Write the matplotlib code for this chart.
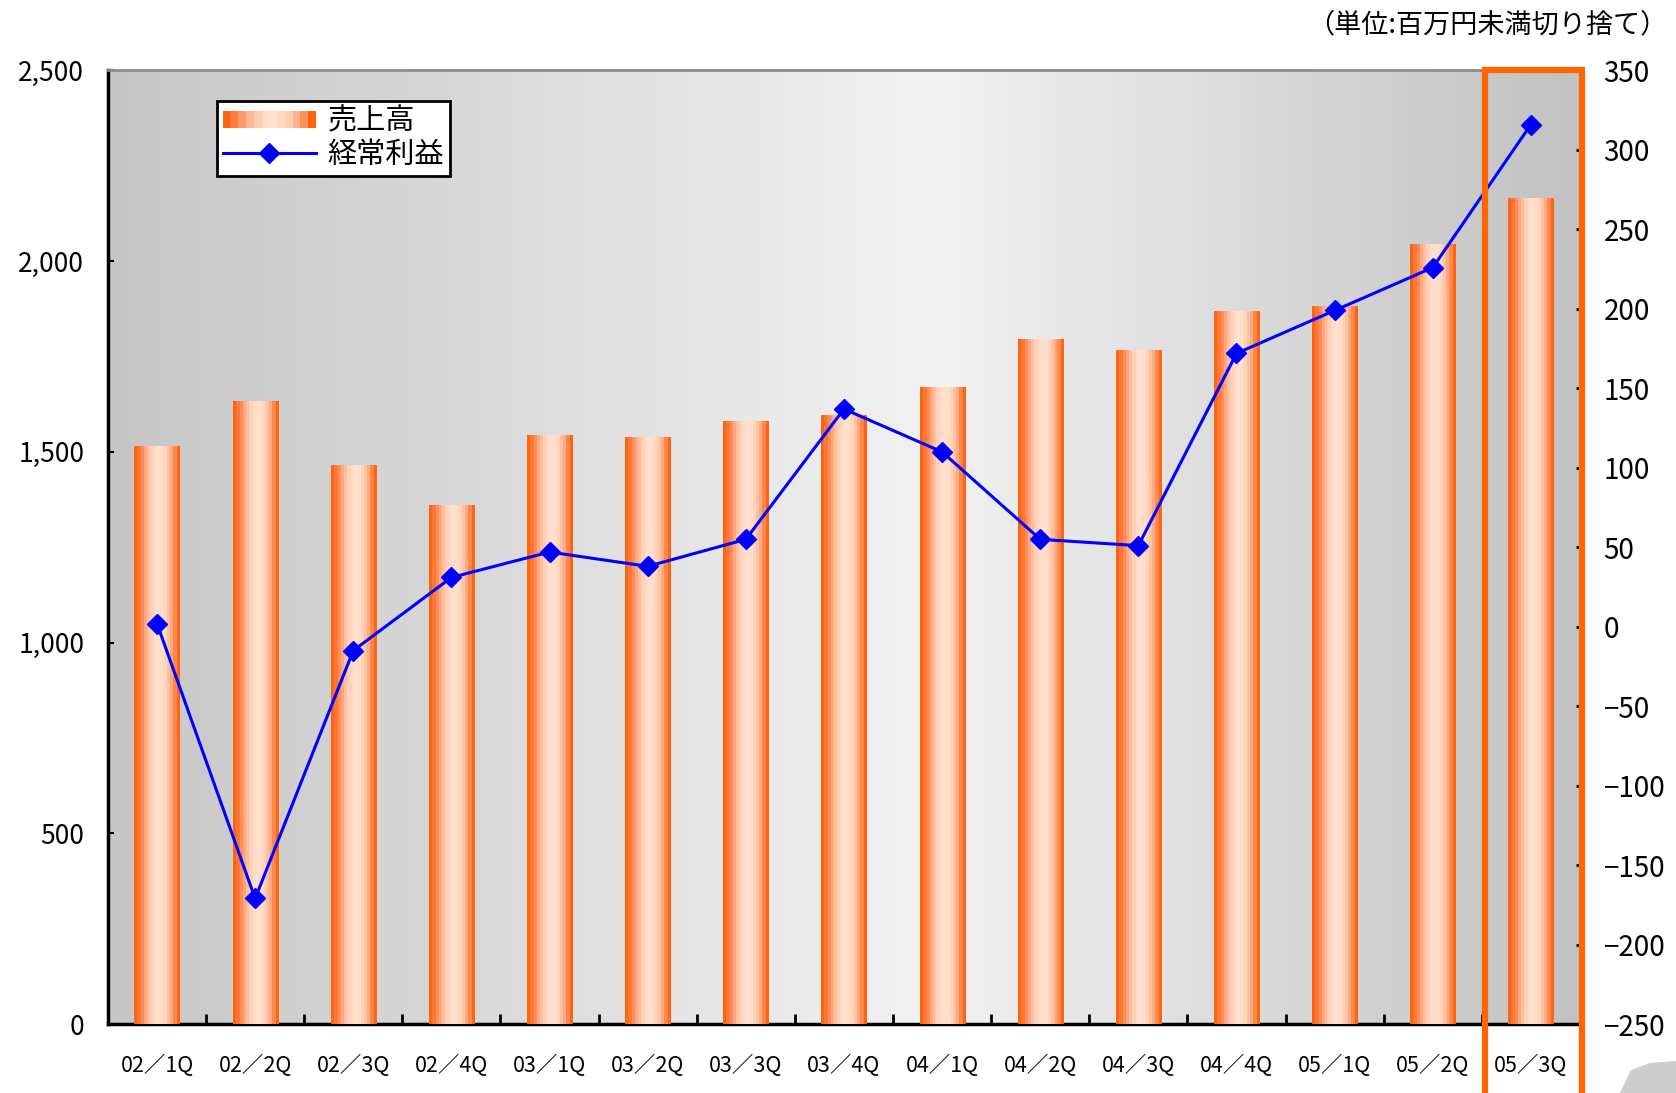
import matplotlib.pyplot as plt
import numpy as np
from matplotlib.colors import LinearSegmentedColormap
from matplotlib.patches import Rectangle, Polygon
from matplotlib.lines import Line2D
from matplotlib.legend_handler import HandlerBase

plt.rcParams['font.family'] = ['Noto Sans CJK JP', 'DejaVu Sans']

# Data
quarters = ['02／1Q', '02／2Q', '02／3Q', '02／4Q', '03／1Q', '03／2Q', '03／3Q', '03／4Q',
            '04／1Q', '04／2Q', '04／3Q', '04／4Q', '05／1Q', '05／2Q', '05／3Q']
sales = [1516, 1634, 1466, 1362, 1544, 1539, 1581, 1598,
         1670, 1797, 1768, 1869, 1883, 2046, 2166]
profit = [2, -171, -15, 31, 47, 38, 55, 137,
          110, 55, 51, 172, 199, 226, 316]
left_ticks = [0, 500, 1000, 1500, 2000, 2500]
right_ticks = [-250, -200, -150, -100, -50, 0, 50, 100, 150, 200, 250, 300, 350]

bar_cmap = LinearSegmentedColormap.from_list(
    'bar', ['#ff6412', '#ff8a55', '#ffbb99', '#ffdcc8', '#ffe2d2', '#ffd2b8', '#ffa87e', '#ff6412'])
bg_cmap = LinearSegmentedColormap.from_list(
    'bg', [(0, '#c6c6c6'), (0.56, '#f2f2f2'), (1, '#c2c2c2')])

fig = plt.figure(figsize=(16.76, 10.93), dpi=100)
ax = fig.add_axes([0.0644, 0.0631, 0.8783, 0.8724])
x = np.arange(len(quarters))

# background gradient
ax.imshow(np.linspace(0, 1, 256).reshape(1, -1), cmap=bg_cmap, aspect='auto',
          extent=(0, 1, 0, 1), transform=ax.transAxes, zorder=0)

bars = ax.bar(x, sales, width=0.46, color='#ff8a55', zorder=2)
stripes = np.linspace(0, 1, 14).reshape(1, -1)
for b in bars:
    im = ax.imshow(stripes, cmap=bar_cmap, aspect='auto', interpolation='nearest',
                   extent=(b.get_x(), b.get_x() + b.get_width(), 0, b.get_height()), zorder=3)
    im.set_clip_path(b)

ax.set_xlim(-0.5, len(quarters) - 0.5)
ax.set_ylim(0, 2500)
ax.set_yticks(left_ticks)
ax.set_yticklabels([f'{v:,}' for v in left_ticks])
ax.set_xticks(x)
ax.set_xticklabels(quarters)
ax.set_xticks(np.arange(len(quarters) + 1) - 0.5, minor=True)
ax.tick_params(axis='x', which='major', length=0, pad=22, labelsize=15.5)
ax.tick_params(axis='x', which='minor', direction='in', length=7, width=2)
ax.tick_params(axis='y', direction='in', length=4, width=1.5, pad=17, labelsize=19)
for s in ['left', 'bottom']:
    ax.spines[s].set_linewidth(2.5)
ax.spines['top'].set_color('#8c8c8c')
ax.spines['top'].set_linewidth(2)
ax.spines['right'].set_visible(False)

ax2 = ax.twinx()
ax2.plot(x, profit, color='#0000ff', lw=2.2, marker='D', markersize=10, zorder=5)
ax2.set_ylim(-250, 350)
ax2.set_yticks(right_ticks)
ax2.set_yticklabels([f'{v}'.replace('-', '−') for v in right_ticks])
ax2.tick_params(axis='y', direction='in', length=3, width=2, pad=17, labelsize=20)
for s in ['left', 'top', 'right', 'bottom']:
    ax2.spines[s].set_visible(False)


class StripeHandler(HandlerBase):
    def create_artists(self, legend, orig_handle, xd, yd, width, height, fontsize, trans):
        n = 12
        cols = bar_cmap(np.linspace(0, 1, n))
        arts = []
        for i in range(n):
            r = Rectangle((xd + width * i / n, yd + height * 0.1), width / n, height * 0.8,
                          facecolor=cols[i], edgecolor='none', transform=trans)
            arts.append(r)
        return arts


bar_handle = Rectangle((0, 0), 1, 1)
line_handle = Line2D([], [], color='#0000ff', lw=2.2, marker='D', markersize=10)
leg = ax2.legend([bar_handle, line_handle], ['売上高', '経常利益'],
                 handler_map={Rectangle: StripeHandler()},
                 loc='upper left', bbox_to_anchor=(0.074, 0.968), borderaxespad=0,
                 fancybox=False, edgecolor='black', framealpha=1, fontsize=21,
                 handlelength=3.2, labelspacing=0.1, borderpad=0.2, handletextpad=0.4)
leg.get_frame().set_linewidth(2)

# unit note
fig.text(0.995, 0.977, '（単位:百万円未満切り捨て）', ha='right', va='center', fontsize=19.5)

# highlight frame for the latest quarter
fig.patches.append(Rectangle((1485 / 1676, -0.05), 97 / 1676, 1 - 70 / 1093 + 0.05,
                             transform=fig.transFigure, fill=False,
                             edgecolor='#ff6600', lw=4.5, zorder=10))
# corner decoration
fig.patches.append(Polygon([(1620 / 1676, 0), (1631 / 1676, 23 / 1093),
                            (1650 / 1676, 30 / 1093), (1676 / 1676, 32 / 1093), (1, 0)],
                           closed=True, transform=fig.transFigure,
                           facecolor='#cccccc', edgecolor='none'))

fig.savefig('out.png', dpi=100)
